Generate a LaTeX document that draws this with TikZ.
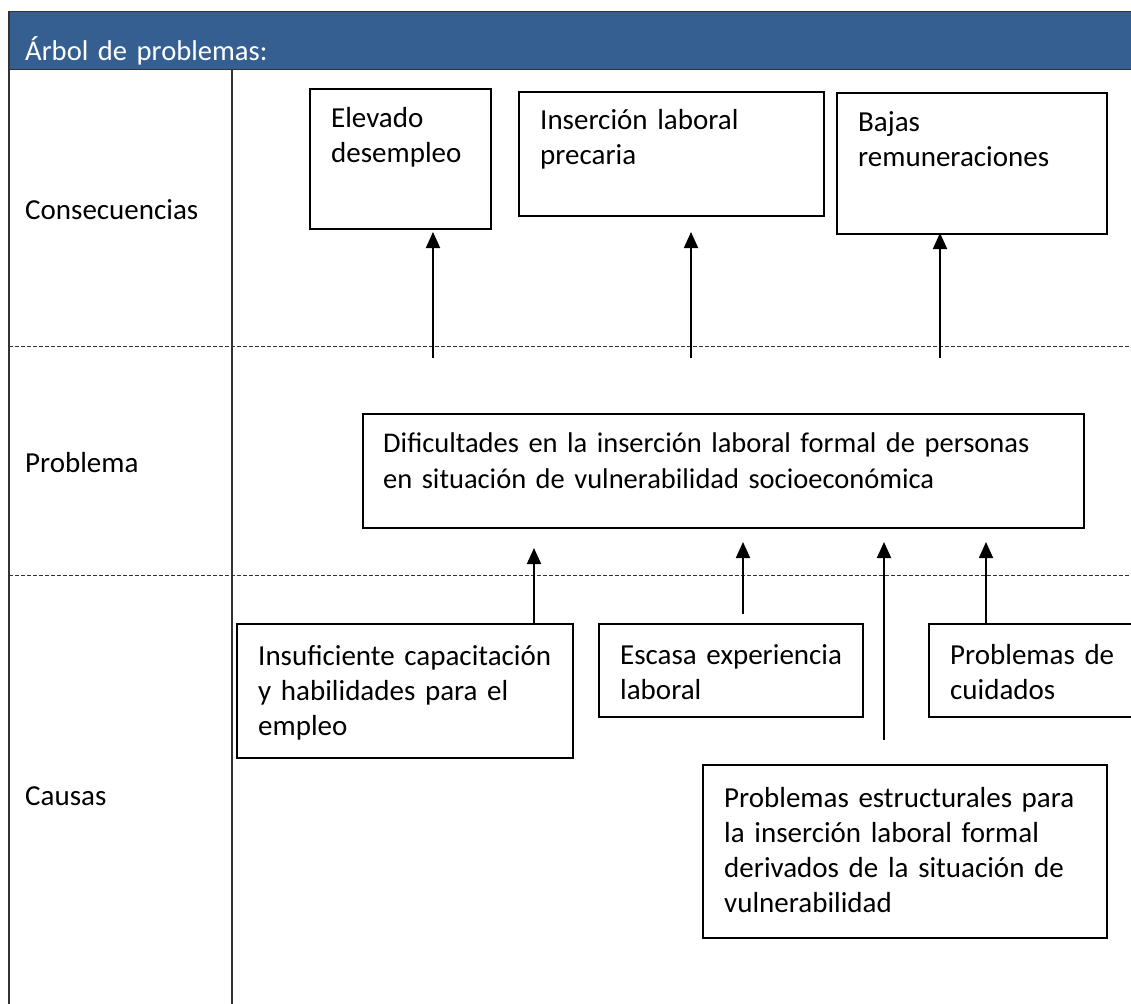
\documentclass[tikz,border=0pt]{standalone}
\usepackage{fontspec}
\setmainfont{Carlito}
\usetikzlibrary{arrows.meta}
\definecolor{hdrblue}{RGB}{54,95,145}
\definecolor{rule}{RGB}{50,50,50}
\begin{document}
\begin{tikzpicture}[x=1pt,y=-1pt,
  box/.style={draw=black,line width=2.2pt,anchor=north west,inner sep=0pt},
  txt/.style={anchor=base west,inner sep=0pt,align=left,text width=420pt,
    font=\fontsize{29}{35}\selectfont},
  arr/.style={line width=1.8pt,-{Triangle[width=14pt,length=16pt]}},
  sepline/.style={rule,line width=1pt,dash pattern=on 4pt off 2pt},
  vline/.style={rule,line width=1.5pt}]
\useasboundingbox (0,0) rectangle (1131,1003);
\clip (0,0) rectangle (1131,1003);
\fill[white] (0,0) rectangle (1131,1003);
% header
\node[fill=hdrblue,draw=rule,line width=1.2pt,anchor=north west,inner sep=0pt,
  minimum width=1140pt,minimum height=58pt] (hdr) at (9,11) {};
\node[txt,text=white,font=\fontsize{28.6}{35}\selectfont] (title) at (25,61) {Árbol de problemas:};
% table rules
\draw[vline] (9,11) -- (9,1010);
\draw[vline] (232,69) -- (232,1010);
\draw[sepline] (9,346) -- (1140,346);
\draw[sepline] (9,575) -- (1140,575);
% row labels
\node[txt] (lcons) at (25,219) {Consecuencias};
\node[txt] (lprob) at (25,472) {Problema};
\node[txt] (lcaus) at (25,805) {Causas};
% consequence boxes
\node[box,minimum width=181pt,minimum height=140pt] (c1) at (309,88) {};
\node[txt] (c1t) at (331,128) {Elevado\\desempleo};
\node[box,minimum width=305pt,minimum height=124pt] (c2) at (518,91) {};
\node[txt] (c2t) at (540,130) {Inserción laboral\\precaria};
\node[box,minimum width=270pt,minimum height=141pt] (c3) at (836,92) {};
\node[txt] (c3t) at (858,132) {Bajas\\remuneraciones};
% problem box
\node[box,minimum width=721pt,minimum height=114pt] (p) at (362,413) {};
\node[txt,text width=700pt,font=\fontsize{28.5}{36}\selectfont] (pt) at (383,452) {Dificultades en la inserción laboral formal de personas\\en situación de vulnerabilidad socioeconómica};
% cause boxes
\node[box,minimum width=336pt,minimum height=134pt] (k1) at (236,623) {};
\node[txt] (k1t) at (258,665) {Insuficiente capacitación\\y habilidades para el\\empleo};
\node[box,minimum width=264pt,minimum height=93pt] (k2) at (598,623) {};
\node[txt] (k2t) at (620,664) {Escasa experiencia\\laboral};
\node[box,minimum width=230pt,minimum height=93pt] (k3) at (928,623) {};
\node[txt] (k3t) at (950,664) {Problemas de\\cuidados};
\node[box,minimum width=404pt,minimum height=173pt] (k4) at (702,764) {};
\node[txt] (k4t) at (724,807) {Problemas estructurales para\\la inserción laboral formal\\derivados de la situación de\\vulnerabilidad};
% arrow end points
\coordinate (a1s) at (433,358); \coordinate (a1e) at (433,232);
\coordinate (a2s) at (691,358); \coordinate (a2e) at (691,232);
\coordinate (a3s) at (940,358); \coordinate (a3e) at (940,233);
\coordinate (b1e) at (534,548);
\coordinate (b2s) at (743,614); \coordinate (b2e) at (743,542);
\coordinate (b3s) at (884,740); \coordinate (b3e) at (884,542);
\coordinate (b4e) at (986,542);
% arrows
\draw[arr] (a1s) -- (a1e);
\draw[arr] (a2s) -- (a2e);
\draw[arr] (a3s) -- (a3e);
\draw[arr] (k1.north -| b1e) -- (b1e);
\draw[arr] (b2s) -- (b2e);
\draw[arr] (b3s) -- (b3e);
\draw[arr] (k3.north -| b4e) -- (b4e);
\end{tikzpicture}
\end{document}
